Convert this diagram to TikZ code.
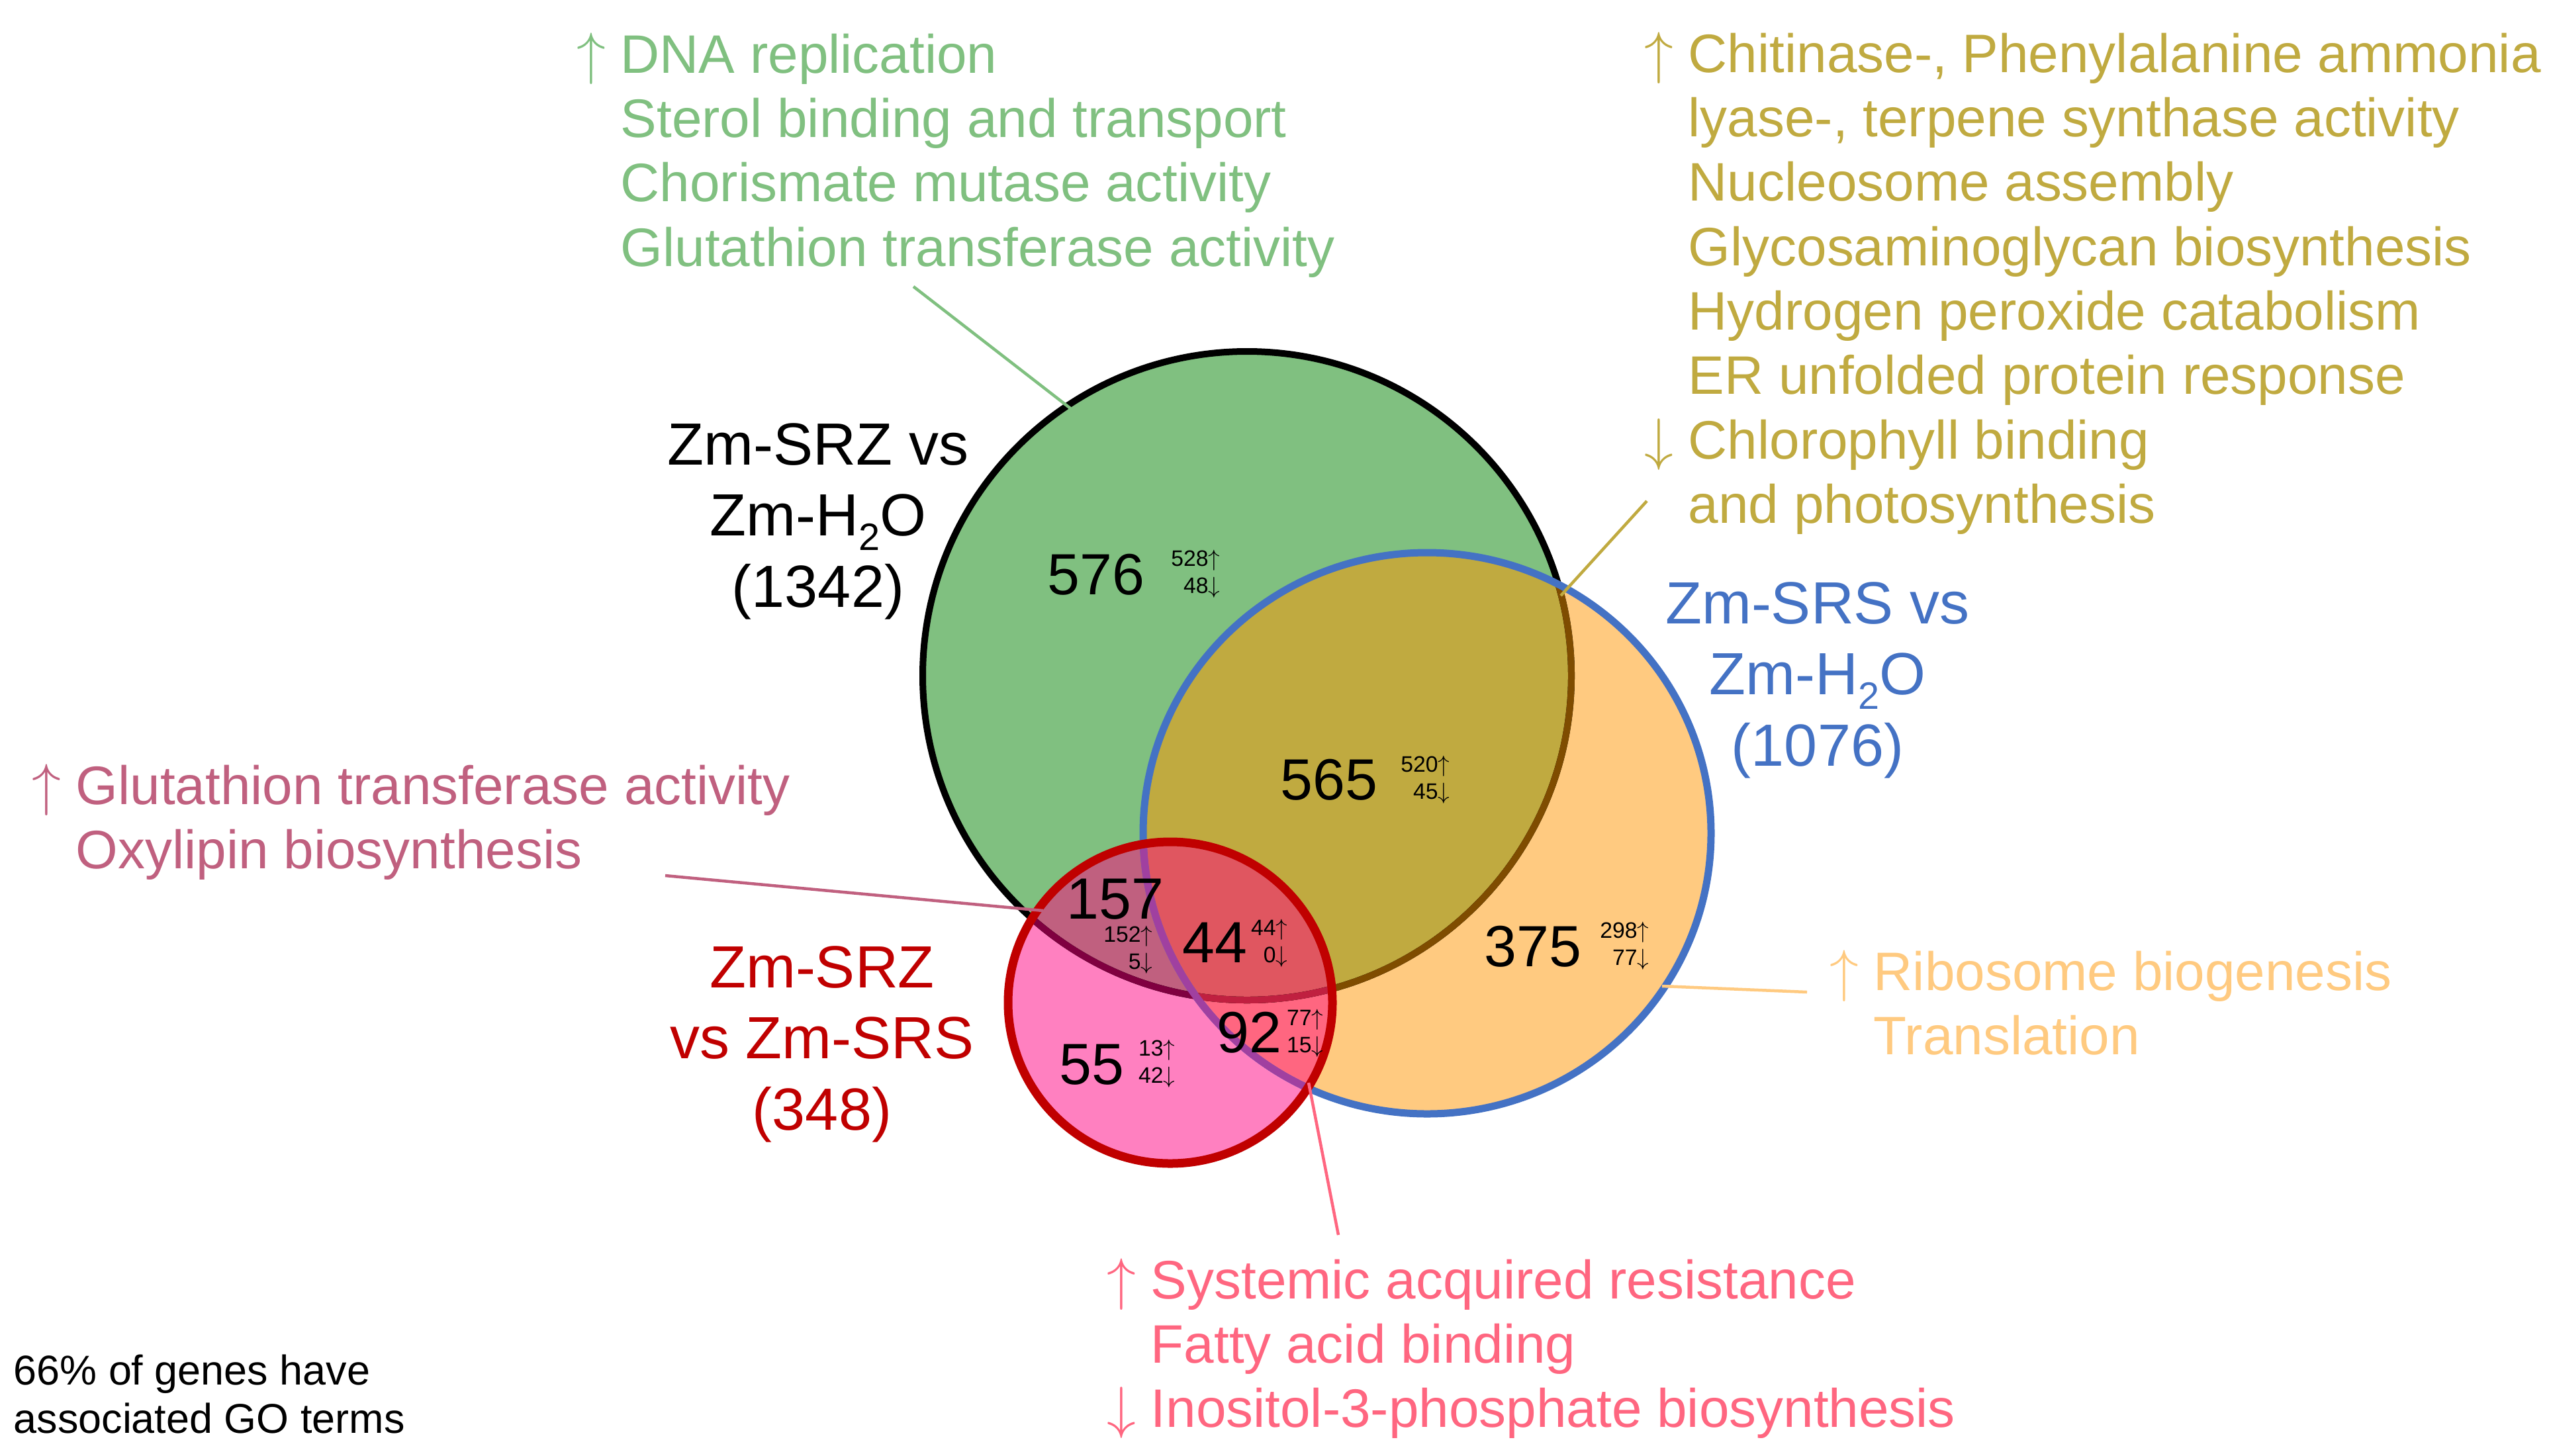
\documentclass[tikz,border=0pt]{standalone}
\usepackage{fontspec}
\setmainfont{Liberation Sans}

\definecolor{setgreen}{HTML}{80C080}
\definecolor{setolive}{HTML}{C0AA40}
\definecolor{setorange}{HTML}{FFCA80}
\definecolor{setpink}{HTML}{FF80C0}
\definecolor{setmauve}{HTML}{C0607F}
\definecolor{settriple}{HTML}{E05660}
\definecolor{setsalmon}{HTML}{FF6680}
\definecolor{linebrown}{HTML}{7F4C00}
\definecolor{lineblue}{HTML}{4472C4}
\definecolor{linered}{HTML}{C00000}
\definecolor{linemaroon}{HTML}{800040}
\definecolor{linecrimson}{HTML}{C02040}
\definecolor{linepurple}{HTML}{A040A0}

\newcommand{\htwo}{H\raisebox{-0.24em}{\fontsize{16.4}{16.4}\selectfont 2}O}
\newcommand{\up}{$\uparrow$}
\newcommand{\dn}{$\downarrow$}

\tikzset{
  golist/.style={inner sep=0pt, anchor=base west, font=\fontsize{23.3}{27.7}\selectfont},
  setlabel/.style={inner sep=0pt, anchor=base, font=\fontsize{25.6}{30.7}\selectfont},
  count/.style={inner sep=0pt, anchor=base, font=\fontsize{25}{30}\selectfont},
  updown/.style={inner sep=0pt, anchor=base east, font=\fontsize{9.6}{11.5}\selectfont},
  leader/.style={line width=0.045cm},
}

\begin{document}
\begin{tikzpicture}
  \useasboundingbox (0,0) rectangle (38.51,-21.99);
  \def\srzset{(18.84,-10.21) circle [radius=4.90]}
  \def\srsset{(21.56,-12.59) ellipse [x radius=4.29, y radius=4.24]}
  \def\srzsrsset{(17.68,-15.15) ellipse [x radius=2.45, y radius=2.43]}

  % fills
  \fill[setgreen] \srzset;
  \fill[setorange] \srsset;
  \begin{scope}
    \clip \srzset;
    \fill[setolive] \srsset;
  \end{scope}
  \fill[setpink] \srzsrsset;
  \begin{scope}
    \clip \srzsrsset;
    \fill[setmauve] \srzset;
    \fill[setsalmon] \srsset;
    \clip \srzset;
    \fill[settriple] \srsset;
  \end{scope}

  % outlines
  \draw[black, line width=0.1cm] \srzset;
  \begin{scope}
    \clip \srsset;
    \draw[linebrown, line width=0.1cm] \srzset;
  \end{scope}
  \draw[lineblue, line width=0.11cm] \srsset;
  \begin{scope}
    \clip \srzsrsset;
    \draw[linemaroon, line width=0.1cm] \srzset;
    \begin{scope}
      \clip \srsset;
      \draw[linecrimson, line width=0.1cm] \srzset;
    \end{scope}
    \draw[linepurple, line width=0.11cm] \srsset;
  \end{scope}
  \draw[linered, line width=0.13cm] \srzsrsset;

  % set names
  \node[setlabel] (srzname) at (12.36,-7.02)
    {\begin{tabular}[t]{@{}c@{}}Zm-SRZ vs\\Zm-\htwo\\(1342)\end{tabular}};
  \node[setlabel, lineblue] (srsname) at (27.46,-9.42)
    {\begin{tabular}[t]{@{}c@{}}Zm-SRS vs\\Zm-\htwo\\(1076)\end{tabular}};
  \node[setlabel, linered] (srzsrsname) at (12.42,-14.92)
    {\begin{tabular}[t]{@{}c@{}}Zm-SRZ\\vs Zm-SRS\\(348)\end{tabular}};

  % counts
  \node[count] (n576) at (16.56,-8.98) {576};
  \node[updown] (u576) at (18.44,-8.96) {\begin{tabular}[b]{@{}r@{}}528\up\\48\dn\end{tabular}};
  \node[count] (n565) at (20.08,-12.08) {565};
  \node[updown] (u565) at (21.91,-12.07) {\begin{tabular}[b]{@{}r@{}}520\up\\45\dn\end{tabular}};
  \node[count] (n375) at (23.16,-14.60) {375};
  \node[updown] (u375) at (24.92,-14.58) {\begin{tabular}[b]{@{}r@{}}298\up\\77\dn\end{tabular}};
  \node[count] (n157) at (16.85,-13.88) {157};
  \node[updown] (u157) at (17.42,-14.64) {\begin{tabular}[b]{@{}r@{}}152\up\\5\dn\end{tabular}};
  \node[count] (n44) at (18.35,-14.54) {44};
  \node[updown] (u44) at (19.46,-14.54) {\begin{tabular}[b]{@{}r@{}}44\up\\0\dn\end{tabular}};
  \node[count] (n92) at (18.87,-15.90) {92};
  \node[updown] (u92) at (20.00,-15.90) {\begin{tabular}[b]{@{}r@{}}77\up\\15\dn\end{tabular}};
  \node[count] (n55) at (16.49,-16.38) {55};
  \node[updown] (u55) at (17.76,-16.36) {\begin{tabular}[b]{@{}r@{}}13\up\\42\dn\end{tabular}};

  % GO term lists
  \node[golist, setgreen] (gosrz) at (9.37,-1.10)
    {\begin{tabular}[t]{@{}l@{}}\llap{\up\ }DNA replication\\Sterol binding and transport\\Chorismate mutase activity\\Glutathion transferase activity\end{tabular}};
  \node[golist, setolive] (goshared) at (25.50,-1.09)
    {\begin{tabular}[t]{@{}l@{}}\llap{\up\ }Chitinase-, Phenylalanine ammonia\\lyase-, terpene synthase activity\\Nucleosome assembly\\Glycosaminoglycan biosynthesis\\Hydrogen peroxide catabolism\\ER unfolded protein response\\\llap{\dn\ }Chlorophyll binding\\and photosynthesis\end{tabular}};
  \node[golist, setmauve] (gomauve) at (1.14,-12.15)
    {\begin{tabular}[t]{@{}l@{}}\llap{\up\ }Glutathion transferase activity\\Oxylipin biosynthesis\end{tabular}};
  \node[golist, setorange] (gosrs) at (28.30,-14.96)
    {\begin{tabular}[t]{@{}l@{}}\llap{\up\ }Ribosome biogenesis\\Translation\end{tabular}};
  \node[golist, setsalmon] (gosalmon) at (17.38,-19.62)
    {\begin{tabular}[t]{@{}l@{}}\llap{\up\ }Systemic acquired resistance\\Fatty acid binding\\\llap{\dn\ }Inositol-3-phosphate biosynthesis\end{tabular}};

  \node[inner sep=0pt, anchor=base west, font=\fontsize{17.9}{20.8}\selectfont] (note) at (0.20,-20.92)
    {\begin{tabular}[t]{@{}l@{}}66\% of genes have\\associated GO terms\end{tabular}};

  % leaders
  \coordinate (gosrzend) at (13.80,-4.33);
  \coordinate (srzedge) at (16.21,-6.20);
  \coordinate (gosharedend) at (24.88,-7.57);
  \coordinate (sharededge) at (23.58,-9.00);
  \coordinate (gomauveend) at (10.05,-13.23);
  \coordinate (mauveedge) at (15.76,-13.76);
  \coordinate (srsedge) at (25.11,-14.90);
  \coordinate (gosrsend) at (27.30,-14.99);
  \coordinate (salmonedge) at (19.77,-16.36);
  \coordinate (gosalmonend) at (20.22,-18.66);
  \draw[leader, setgreen] (gosrzend) -- (srzedge);
  \draw[leader, setolive] (gosharedend) -- (sharededge);
  \draw[leader, setmauve] (gomauveend) -- (mauveedge);
  \draw[leader, setorange] (srsedge) -- (gosrsend);
  \draw[leader, setsalmon] (salmonedge) -- (gosalmonend);
\end{tikzpicture}
\end{document}
